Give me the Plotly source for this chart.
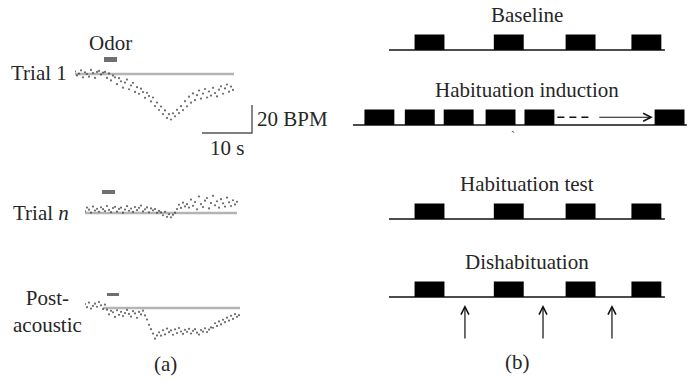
import numpy as np
import plotly.graph_objects as go

# ---------------- data ----------------
# (a) heart-rate change (BPM relative to pre-odor baseline), one sample every DT seconds
DT = 0.4
trial1_bpm = [1.8, -1.0, 0.3, 2.6, -2.4, 1.2, 0.0, -1.9, 2.9, 0.7, -2.8, 1.5, 2.2, -0.4, 1.0,
              1.5, -2.8, 0.4, -4.6, -1.1, -2.4, -7.3, -3.0, -5.2, -9.8, -6.1, -4.0, -10.9, -8.2,
              -6.3, -12.8, -9.4, -14.1, -10.5, -12.9, -17.0, -13.4, -15.8,
              -19.6, -16.8, -22.9, -20.4, -25.7, -23.2, -28.6, -26.0, -31.4, -28.7,
              -32.5, -28.1, -30.2, -25.6, -27.9, -23.0, -25.8, -19.4, -23.1, -16.2, -20.5, -13.9,
              -18.7, -15.1, -11.8, -17.6, -14.0, -10.7, -16.8, -12.5, -15.4, -9.9, -13.6, -16.0,
              -11.2, -8.8, -14.1, -10.3, -7.5, -12.6, -9.0, -11.4]
trialn_bpm = [1.2, 3.9, 2.4, 0.3, 4.6, 1.8, 3.0, 0.9, 4.1, 2.7, 1.4, 5.0, 2.2, 0.6, 3.5, 4.4, 1.0,
              2.9, 3.8, 0.2, 2.5, 4.9, 1.6, 3.2, 0.8, 4.2, 2.0, 3.7, 5.3, 1.1, 2.6, 4.0, 0.5, 3.3,
              1.9, 2.8, 0.1, 1.5,
              0.4, -1.6, 0.9, -2.7, -0.9, -3.1, -1.3, 0.2,
              2.8, 5.9, 3.6, 7.4, 4.7, 6.3,
              3.9, 9.6, 5.1, 7.8, 2.6, 11.8, 6.4, 4.2, 8.8, 10.7, 3.3, 7.1, 12.3, 5.5, 8.4, 3.8,
              9.9, 6.9, 4.6, 11.0, 7.6, 5.0, 9.1, 6.1, 8.0]
post_bpm = [2.8, 0.6, 3.9, -0.4, 1.5, 3.1, 0.9, 4.2, 1.9, -0.8, 2.4,
            -1.2, -4.5, -2.0, -3.1, -6.4, -1.6, -4.9, -2.7, -5.8, -3.6, -1.4, -4.2, -6.1, -2.3,
            -3.9, -7.0, -2.8, -4.6, -1.9, -5.3,
            -8.2, -12.0, -15.1, -18.3, -21.9, -19.6,
            -17.4, -19.8, -15.9, -18.9, -14.7, -17.3, -16.0, -19.1, -15.2, -17.9, -14.3, -16.8,
            -18.5, -15.6, -17.0, -14.9, -18.2, -16.3, -15.1, -17.6, -19.0, -15.8, -16.9, -14.5,
            -17.2, -15.4, -13.9,
            -14.1, -10.9, -12.8, -9.6, -11.7, -8.4, -10.1, -6.9, -9.0, -5.6, -7.8, -4.4, -6.3, -5.1]

# odor presentation window (s) and baseline reference span (s) for each trial
odor_windows = [(5.8, 8.4), (3.4, 6.0), (4.4, 6.8)]
baseline_spans = [(0.0, 31.8), (0.0, 30.4), (3.6, 31.0)]

# scale bar
SCALE_S = 10
SCALE_BPM = 20

# (b) stimulation protocol, schematic time units
stim_onsets = [46.5, 99.5, 147.5, 191.5]
induction_onsets = [13, 40, 66, 94, 120, 207]
stim_len = 20
acoustic_times = [80.2, 132.4, 178.5]
protocol_rows = ["Baseline", "Habituation induction", "Habituation test", "Dishabituation"]

# ---------------- layout helpers ----------------
W, H = 689, 385
PX_PER_S = 5.0
PX_PER_BPM = 1.4
FONT = dict(family="Liberation Serif, Times New Roman, serif", size=21, color="#262626")
DOT = "#3a3a3a"
REF = "#b4b4b4"
ODOR = "#6f6f6f"


def px(x):
    return x / W


def py(y):
    return 1 - y / H


# each trial: left edge of the trace (px), baseline row (px), top/bottom of axis box (px)
trial_boxes = [(75, 74, 50, 140), (85, 213, 180, 235), (85, 308, 285, 345)]
odor_bar_px = [(57, 62), (190, 194), (293, 296)]
traces = [trial1_bpm, trialn_bpm, post_bpm]

fig = go.Figure()
layout = dict(width=W, height=H, margin=dict(l=0, r=0, t=0, b=0), autosize=False,
              paper_bgcolor="white", plot_bgcolor="white", showlegend=False)
shapes = []
annotations = []

for i, (x0, base, top, bot) in enumerate(trial_boxes):
    n = "" if i == 0 else str(i + 1)
    xa, ya = "x" + n, "y" + n
    span_s = 36.0
    layout["xaxis" + n] = dict(domain=[px(x0), px(x0 + span_s * PX_PER_S)], range=[0, span_s],
                               visible=False, anchor=ya)
    layout["yaxis" + n] = dict(domain=[py(bot), py(top)],
                               range=[-(bot - base) / PX_PER_BPM, (base - top) / PX_PER_BPM],
                               visible=False, anchor=xa)
    vals = traces[i]
    t = np.arange(len(vals)) * DT
    b0, b1 = baseline_spans[i]
    fig.add_trace(go.Scatter(x=[b0, b1], y=[0, 0], mode="lines", xaxis=xa, yaxis=ya,
                             line=dict(color=REF, width=2.5), hoverinfo="skip"))
    fig.add_trace(go.Scatter(x=t, y=vals, mode="markers", xaxis=xa, yaxis=ya,
                             marker=dict(size=2.2, color=DOT, opacity=0.75),
                             hoverinfo="skip"))
    # odor bar above the trace
    o0, o1 = odor_windows[i]
    ob_top, ob_bot = odor_bar_px[i]
    shapes.append(dict(type="rect", xref=xa, yref=ya, x0=o0, x1=o1,
                       y0=(base - ob_bot) / PX_PER_BPM, y1=(base - ob_top) / PX_PER_BPM,
                       fillcolor=ODOR, line=dict(width=0)))

# scale bar in trial-1 axes
sb_t, sb_v = 35.4, -42.1
fig.add_trace(go.Scatter(x=[sb_t - SCALE_S, sb_t, sb_t], y=[sb_v, sb_v, sb_v + SCALE_BPM],
                         mode="lines", xaxis="x", yaxis="y",
                         line=dict(color="#555555", width=1.4), hoverinfo="skip"))
annotations.append(dict(x=sb_t, y=sb_v + SCALE_BPM / 2, xref="x", yref="y", text="20 BPM",
                        showarrow=False, xanchor="left", yanchor="middle", xshift=3, font=FONT))
annotations.append(dict(x=sb_t - SCALE_S / 2, y=sb_v, xref="x", yref="y", text="10 s",
                        showarrow=False, xanchor="center", yanchor="top", yshift=-1, font=FONT))

# panel (a) labels
annotations += [
    dict(x=px(110), y=py(43), text="Odor", xanchor="center", yanchor="middle"),
    dict(x=px(69), y=py(73), text="Trial 1", xanchor="right", yanchor="middle"),
    dict(x=px(71), y=py(213), text="Trial <i>n</i>", xanchor="right", yanchor="middle"),
    dict(x=px(47), y=py(311), text="Post-<br>acoustic", xanchor="center", yanchor="middle"),
    dict(x=px(165), y=py(364), text="(a)", xanchor="center", yanchor="middle"),
    dict(x=px(517), y=py(362), text="(b)", xanchor="center", yanchor="middle"),
]
for a in annotations[-6:]:
    a.update(xref="paper", yref="paper", showarrow=False, font=FONT)

# ---------------- panel (b): protocol ----------------
layout["xaxis4"] = dict(domain=[px(345), 1], range=[0, 230], visible=False, anchor="y4")
layout["yaxis4"] = dict(domain=[0, 1], range=[H, 0], visible=False, anchor="x4")

row_line_y = [50, 125, 219, 297]
row_extent = [(29.4, 213.9), (5.3, 228.6), (29.4, 213.9), (29.4, 213.9)]
row_onsets = [stim_onsets, induction_onsets, stim_onsets, stim_onsets]
BLOCK_H = 15.5

for name, ly, (e0, e1), ons in zip(protocol_rows, row_line_y, row_extent, row_onsets):
    fig.add_trace(go.Scatter(x=[e0, e1], y=[ly, ly], mode="lines", xaxis="x4", yaxis="y4",
                             line=dict(color="#111111", width=1.5), hoverinfo="skip"))
    for o in ons:
        shapes.append(dict(type="rect", xref="x4", yref="y4", x0=o, x1=o + stim_len,
                           y0=ly - BLOCK_H, y1=ly, fillcolor="#000000", line=dict(width=0)))
    annotations.append(dict(x=(29.4 + 213.9) / 2, y=ly - BLOCK_H - 19.5, xref="x4", yref="y4",
                            text=name, showarrow=False, xanchor="center", yanchor="middle",
                            font=FONT))

# induction: repeated trials continue until the final block
ind_y = row_line_y[1] - BLOCK_H / 2
last_short = induction_onsets[4] + stim_len
shapes.append(dict(type="line", xref="x4", yref="y4", x0=last_short + 2, x1=165.8,
                   y0=ind_y, y1=ind_y, line=dict(color="#111111", width=1.3, dash="7px,5px")))
annotations.append(dict(x=induction_onsets[-1] - 1.2, y=ind_y, ax=169, ay=ind_y,
                        xref="x4", yref="y4", axref="x4", ayref="y4", text="",
                        showarrow=True, arrowhead=5, arrowsize=1.3, arrowwidth=1.2,
                        arrowcolor="#111111"))
annotations.append(dict(x=112, y=136, xref="x4", yref="y4", text="`", showarrow=False,
                        font=dict(family=FONT["family"], size=12, color="#444444")))

# dishabituation: acoustic stimuli between odor blocks
for at in acoustic_times:
    annotations.append(dict(x=at, y=305, ax=at, ay=340, xref="x4", yref="y4",
                            axref="x4", ayref="y4", text="", showarrow=True, arrowhead=5,
                            arrowsize=1.3, arrowwidth=1.2, arrowcolor="#111111"))

layout["shapes"] = shapes
layout["annotations"] = annotations
fig.update_layout(**layout)
fig.write_html("out.html")
